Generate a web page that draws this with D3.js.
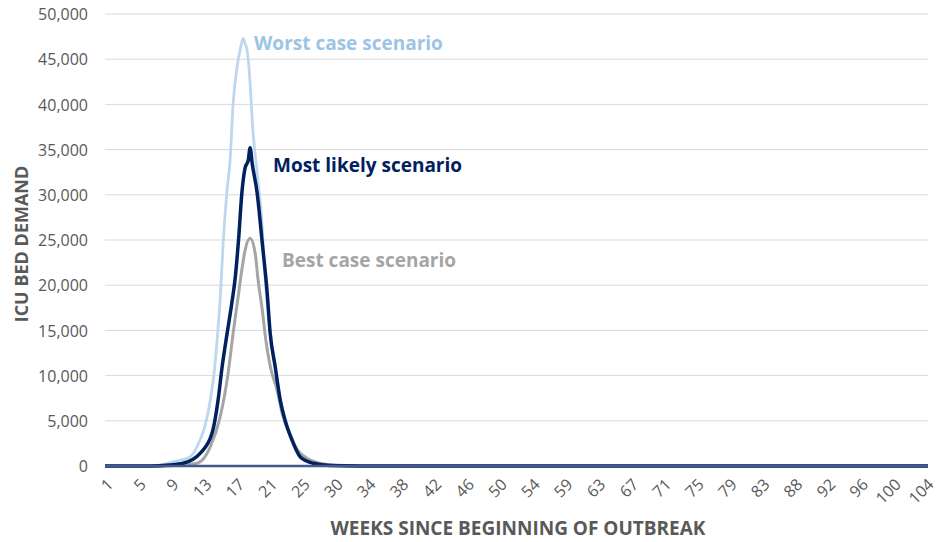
<!DOCTYPE html>
<html>
<head>
<meta charset="utf-8">
<script src="https://cdn.jsdelivr.net/npm/d3@7"></script>
<style>
  html, body { margin: 0; padding: 0; background: #ffffff; }
  svg { display: block; }
  text { font-family: "Open Sans", "Noto Sans", sans-serif; }
</style>
</head>
<body>
<svg id="chart" width="940" height="542"></svg>
<script>
// ---- Data (x = day index since beginning of outbreak, 0..727) ----
const totalDays = 727;
const tickDays = [0, 29, 58, 87, 116, 145, 174, 203, 232, 261, 290, 319, 348, 377, 406, 435, 464, 493, 522, 551, 580, 609, 638, 667, 696, 725];
const tickLabels = ["1", "5", "9", "13", "17", "21", "25", "30", "34", "38", "42", "46", "50", "54", "59", "63", "67", "71", "75", "79", "83", "88", "92", "96", "100", "104"];
const yTicks = [0, 5000, 10000, 15000, 20000, 25000, 30000, 35000, 40000, 45000, 50000];

const worstDays   = [0, 40, 53, 60, 75, 84, 88, 93, 97, 99.5, 101.7, 104.4, 107.6, 110.5, 113.2, 116.7, 119.4, 122, 123.5, 125.5, 128, 130.6, 134.2, 138.5, 141.5, 145.9, 150.3, 154.8, 159.2, 165.4, 172.5, 184, 199, 226, 727];
const worstValues = [0, 0, 200, 450, 1000, 2900, 4300, 7300, 11000, 14700, 18400, 24700, 30200, 33800, 40100, 44200, 46000, 47300, 46800, 46000, 42700, 37200, 32700, 27200, 20600, 14900, 11100, 7400, 5100, 2900, 1000, 300, 50, 0, 0];

const likelyDays   = [0, 40, 57, 69, 84, 94.6, 99.9, 103.5, 107.9, 112, 115, 117.9, 120.9, 123.8, 126.5, 128.2, 130, 134.4, 138.9, 143.3, 145.9, 150.3, 154.8, 159.2, 165.4, 172.5, 184, 199, 226, 727];
const likelyValues = [0, 0, 100, 300, 1400, 3650, 7300, 11000, 14700, 18000, 20800, 24900, 30200, 33000, 33800, 35200, 33500, 30200, 24700, 19100, 14700, 11000, 7300, 5000, 2800, 1000, 300, 50, 0, 0];

const bestDays   = [0, 49, 70.8, 81.4, 92.9, 101.7, 108.8, 113.2, 117.6, 120.9, 123.8, 128.2, 132.7, 135.3, 138.9, 142, 146, 151.8, 157, 163.6, 170, 178.4, 190, 205, 226, 727];
const bestValues = [0, 0, 150, 300, 2100, 5400, 10300, 14700, 18700, 21700, 23900, 25200, 23500, 20500, 17300, 14000, 11000, 8500, 5600, 3400, 1800, 850, 300, 60, 0, 0];

const seriesNames  = ["Worst case scenario", "Best case scenario", "Most likely scenario"];
const seriesColors = ["#BDD7EE", "#A5A5A5", "#002060"];
const labelColors  = ["#9DC3E6", "#A5A5A5", "#002060"];

// ---- Layout ----
const svg = d3.select("#chart");
const plot = { left: 105, right: 928, top: 14, bottom: 466 };

const x = d3.scaleLinear().domain([0, totalDays]).range([plot.left, plot.right]);
const y = d3.scaleLinear().domain([0, 50000]).range([plot.bottom, plot.top]);

// gridlines
svg.append("g")
  .selectAll("line")
  .data(yTicks.filter(t => t > 0))
  .join("line")
  .attr("x1", plot.left).attr("x2", plot.right)
  .attr("y1", d => y(d)).attr("y2", d => y(d))
  .attr("stroke", "#D9D9D9").attr("stroke-width", 1);

// y axis labels
const yAxis = d3.axisLeft(y).tickValues(yTicks).tickSize(0).tickPadding(0)
  .tickFormat(d3.format(","));
const gy = svg.append("g").attr("transform", `translate(${plot.left - 17},0)`).call(yAxis);
gy.select(".domain").remove();
gy.selectAll("text")
  .attr("fill", "#595959")
  .style("font-size", "16px")
  .style("font-family", "'Open Sans', sans-serif")
  .attr("dy", "0.35em");

// x axis labels
const xAxis = d3.axisBottom(x).tickValues(tickDays).tickSize(0).tickPadding(0)
  .tickFormat((d, i) => tickLabels[i]);
const gx = svg.append("g").attr("transform", `translate(0,${plot.bottom})`).call(xAxis);
gx.select(".domain").remove();
gx.selectAll("text")
  .attr("fill", "#595959")
  .style("font-size", "16px")
  .style("font-family", "'Open Sans', sans-serif")
  .attr("text-anchor", "end")
  .attr("y", 0).attr("dy", 0)
  .attr("transform", "translate(-1,10) rotate(-45)")
  .attr("dominant-baseline", "hanging");

// series lines
const line = d3.line().x(d => x(d[0])).y(d => y(d[1])).curve(d3.curveMonotoneX);
const seriesData = [
  { days: worstDays, values: worstValues, width: 2.8 },
  { days: bestDays, values: bestValues, width: 3 },
  { days: likelyDays, values: likelyValues, width: 3.5 }
];
svg.append("g")
  .selectAll("path")
  .data(seriesData)
  .join("path")
  .attr("d", s => line(s.days.map((d, i) => [d, s.values[i]])))
  .attr("fill", "none")
  .attr("stroke", (s, i) => seriesColors[i])
  .attr("stroke-width", s => s.width)
  .attr("stroke-linejoin", "round");

// horizontal axis line
svg.append("line")
  .attr("x1", plot.left).attr("x2", plot.right)
  .attr("y1", y(0)).attr("y2", y(0))
  .attr("stroke", "#465A8A").attr("stroke-width", 2.5);

// series labels
const labels = [
  { text: seriesNames[0], color: labelColors[0], x: 254, y: 43 },
  { text: seriesNames[2], color: labelColors[2], x: 273, y: 165 },
  { text: seriesNames[1], color: labelColors[1], x: 282, y: 260 }
];
svg.append("g")
  .selectAll("text")
  .data(labels)
  .join("text")
  .attr("x", d => d.x).attr("y", d => d.y)
  .attr("dy", "0.35em")
  .attr("fill", d => d.color)
  .style("font-size", "19px")
  .style("font-weight", "bold")
  .text(d => d.text);

// axis titles
svg.append("text")
  .attr("transform", "translate(22,244) rotate(-90)")
  .attr("text-anchor", "middle")
  .attr("dy", "0.35em")
  .attr("fill", "#595959")
  .style("font-size", "18px")
  .style("font-weight", "bold")
  .text("ICU BED DEMAND");

svg.append("text")
  .attr("x", 518).attr("y", 528)
  .attr("text-anchor", "middle")
  .attr("dy", "0.35em")
  .attr("fill", "#595959")
  .style("font-size", "19px")
  .style("font-weight", "bold")
  .text("WEEKS SINCE BEGINNING OF OUTBREAK");
</script>
</body>
</html>
